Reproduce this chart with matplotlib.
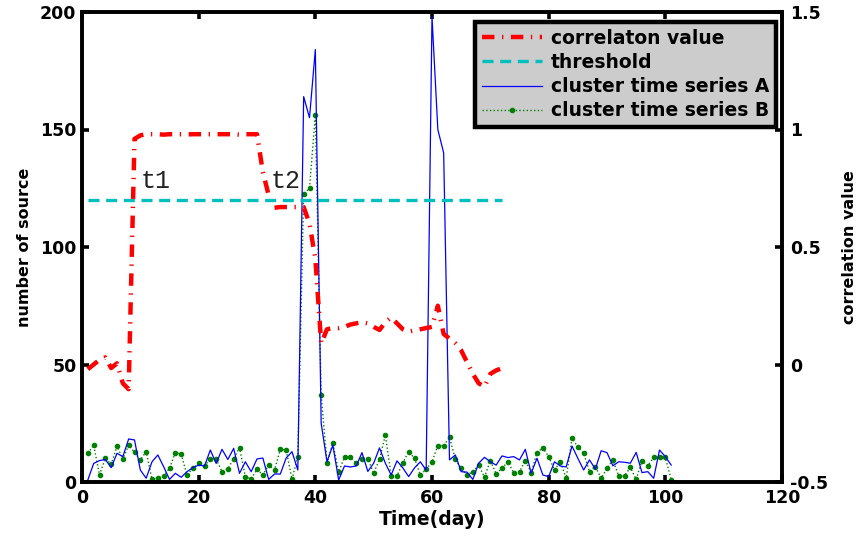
import matplotlib
matplotlib.use("Agg")
import matplotlib.pyplot as plt
import numpy as np

plt.rcParams['font.family'] = ['DejaVu Sans']
plt.rcParams['font.weight'] = 'bold'

# ---- data ----
days_series = list(range(1, 102))
series_A = [0.85, 7.9, 9.1, 9.6, 6.1, 12.2, 10.8, 18.3, 17.9, 5.1,
            1.6, 8.6, 11.5, 6.5, 1.1, 3.7, 2.0, 4.4, 6.1, 7.2,
            6.8, 13.6, 7.9, 13.9, 9.6, 14.3, 3.7, 8.6, 4.4, 9.8,
            10.2, 1.1, 3.4, 3.4, 10.2, 12.9, 5.1, 164, 155, 184,
            25, 8.6, 15.7, 0.85, 6.8, 6.4, 6.8, 12.5, 4.5, 8.0,
            14.5, 8.0, 3.0, 9.0, 6.0, 2.3, 6.0, 8.6, 5.0, 198,
            150, 140, 9.4, 11.5, 4.4, 4.2, 1.1, 8.0, 10.5, 8.6,
            7.2, 11.1, 10.4, 10.8, 9.4, 13.9, 3.7, 10.1, 3.0, 2.3,
            8.6, 6.8, 6.4, 15.3, 10.1, 5.1, 9.4, 5.5, 13.3, 12.5,
            6.9, 8.6, 8.4, 8.0, 12.6, 4.0, 4.4, 1.6, 13.6, 10.8,
            7.2]
series_B = [12.2, 15.7, 3.0, 10.1, 7.5, 15.3, 9.7, 15.7, 12.6, 9.4,
            12.9, 1.1, 1.8, 2.6, 5.8, 12.5, 11.8, 3.0, 5.8, 8.0,
            6.9, 9.7, 9.7, 4.4, 5.6, 10.0, 14.6, 2.3, 1.3, 5.4,
            3.0, 7.2, 5.1, 14.0, 13.6, 1.1, 10.8, 122.5, 125, 156,
            37, 8.2, 16.5, 4.4, 10.5, 10.5, 8.0, 10.0, 10.0, 3.7,
            9.7, 20.0, 2.6, 2.6, 8.2, 12.9, 10.1, 3.0, 5.4, 8.6,
            15.5, 15.5, 19.0, 9.7, 5.8, 3.0, 4.4, 7.2, 2.0, 9.1,
            3.4, 5.8, 8.6, 4.0, 4.4, 9.1, 4.0, 12.5, 14.6, 10.8,
            5.1, 8.6, 1.6, 18.6, 15.0, 12.2, 4.4, 6.5, 1.6, 5.8,
            9.4, 2.6, 2.6, 6.2, 1.1, 9.1, 6.9, 10.5, 10.5, 10.5,
            1.0]
days_corr = list(range(1, 73))
corr_value = [-0.02, 0.0, 0.02, 0.03, -0.015, 0.005, -0.08, -0.105, 0.96, 0.975,
              0.98, 0.98, 0.98, 0.978, 0.98, 0.98, 0.98, 0.979, 0.98, 0.98,
              0.98, 0.98, 0.98, 0.98, 0.98, 0.98, 0.978, 0.98, 0.98, 0.98,
              0.82, 0.72, 0.667, 0.67, 0.67, 0.67, 0.67, 0.67, 0.6, 0.45,
              0.09, 0.15, 0.155, 0.155, 0.16, 0.17, 0.175, 0.18, 0.175, 0.16,
              0.147, 0.18, 0.2, 0.175, 0.15, 0.14, 0.145, 0.15, 0.155, 0.16,
              0.25, 0.13, 0.11, 0.09, 0.06, 0.01, -0.04, -0.08, -0.095, -0.04,
              -0.025, -0.016]
threshold_value = 0.7
x_ticks = [0, 20, 40, 60, 80, 100, 120]
left_ticks = [0, 50, 100, 150, 200]
right_ticks = [-0.5, 0, 0.5, 1, 1.5]
right_ticklabels = ['-0.5', '0', '0.5', '1', '1.5']

fig = plt.figure(figsize=(8.64, 5.4), dpi=100)
ax = fig.add_axes([82/864, 1-482/540, 700/864, 470/540])
ax2 = ax.twinx()

lB, = ax.plot(days_series, series_B, color=(0, 0.5, 0), ls=':', lw=1.0,
              marker='.', markersize=6, label='cluster time series B')
lA, = ax.plot(days_series, series_A, color='blue', lw=0.9,
              label='cluster time series A')

lc, = ax2.plot(days_corr, corr_value, color='red', lw=3.2,
               ls=(0, (2.8, 1.7, 0.3, 1.7)), label='correlaton value')
lt, = ax2.plot([days_corr[0], days_corr[-1]], [threshold_value, threshold_value],
               color=(0, 0.75, 0.75), lw=2.4, ls=(0, (3.3, 2.0)), label='threshold')

ax.set_xlim(0, 120)
ax.set_ylim(0, 200)
ax2.set_ylim(-0.5, 1.5)
ax.set_xticks(x_ticks)
ax.set_yticks(left_ticks)
ax2.set_yticks(right_ticks)
ax2.set_yticklabels(right_ticklabels)

for a in (ax, ax2):
    for s in a.spines.values():
        s.set_linewidth(2.6)
    a.tick_params(direction='in', length=5, width=2.6, labelsize=12.5)
ax.tick_params(axis='x', top=True, pad=5)
ax.tick_params(axis='y', pad=4)
ax2.tick_params(axis='y', pad=6)
for lab in ax.get_xticklabels() + ax.get_yticklabels() + ax2.get_yticklabels():
    lab.set_fontweight('bold')

ax.set_xlabel('Time(day)', fontsize=13.5, fontweight='bold', labelpad=2)
ax.set_ylabel('number of source', fontsize=11.5, fontweight='bold', labelpad=6)
ax2.set_ylabel('correlation value', fontsize=11.5, fontweight='bold', labelpad=10)

ax.text(10.0, 128.0, 't1', family='Liberation Mono', fontsize=18,
        fontweight='normal', va='center', ha='left', color='#222222')
ax.text(32.4, 128.0, 't2', family='Liberation Mono', fontsize=18,
        fontweight='normal', va='center', ha='left', color='#222222')

leg = ax2.legend(handles=[lc, lt, lA, lB], loc='upper right',
                 bbox_to_anchor=(776/864, 1-22/540), bbox_transform=fig.transFigure,
                 borderaxespad=0, prop={'weight': 'bold', 'size': 13.5},
                 fancybox=False, framealpha=1, facecolor=(0.8, 0.8, 0.8),
                 edgecolor='black', handlelength=3.2, handletextpad=0.5,
                 labelspacing=0.28, borderpad=0.35)
leg.get_frame().set_linewidth(3.2)

fig.savefig('out.png', dpi=100)
